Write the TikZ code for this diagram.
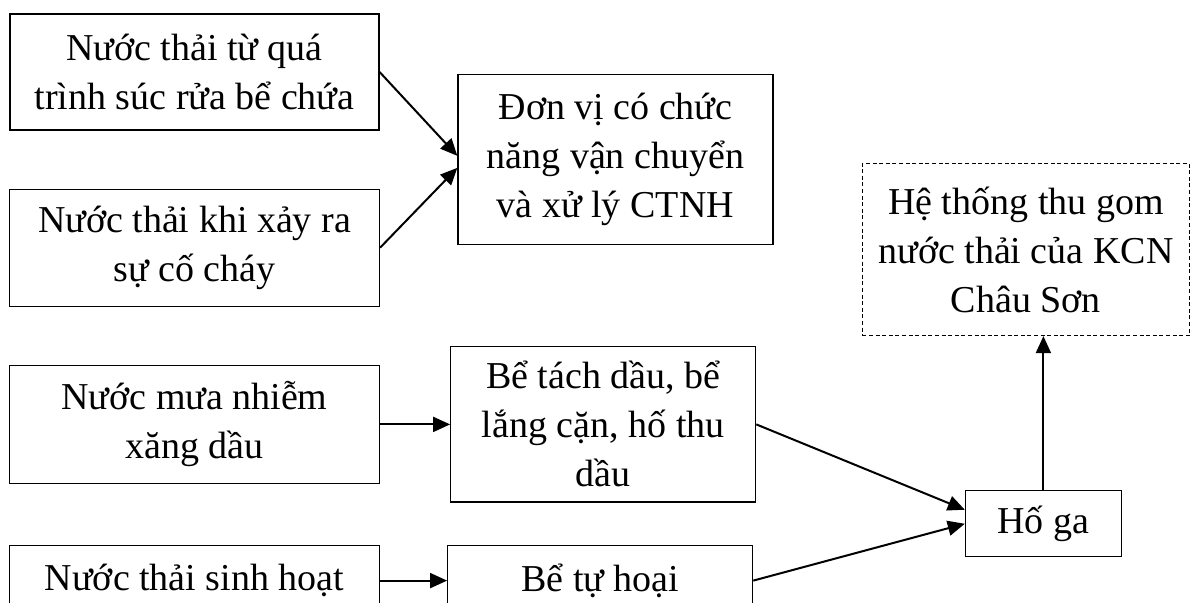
\documentclass[tikz,border=0pt]{standalone}
\usepackage{fontspec}
\setmainfont{Liberation Serif}
\usetikzlibrary{arrows.meta,positioning,calc}
\tikzset{
  blk/.style={draw, line width=0.6pt, inner sep=0pt, align=center,
              font=\fontsize{19}{24.5}\selectfont},
  dblk/.style={blk, dash pattern=on 2pt off 1.3pt},
  ar/.style={-{Triangle[length=8.5pt,width=7.5pt]}, line width=1pt},
}
\begin{document}
\begin{tikzpicture}[x=0.5pt,y=-0.5pt]
  \useasboundingbox (0,0) rectangle (1192,603);
  \clip (0,0) rectangle (1192,603);

  % --- nguồn nước thải ---
  \node[blk, minimum width=184.5pt, minimum height=58pt] (a) at (194.5,72)
       {Nước thải từ quá\\trình súc rửa bể chứa};
  \node[blk, minimum width=185pt, minimum height=58.5pt, below=29pt of a] (b)
       {Nước thải khi xảy ra\\sự cố cháy};
  \node[blk, minimum width=185pt, minimum height=59pt, below=29pt of b] (e)
       {Nước mưa nhiễm\\xăng dầu};
  \node[blk, minimum width=185pt, minimum height=35pt, below=30.5pt of e] (f)
       {Nước thải sinh hoạt};

  % --- xử lý ---
  \coordinate (ab) at ($(a.east)!.5!(b.east)$);
  \node[blk, minimum width=157.5pt, minimum height=85pt, right=38.75pt of ab] (c)
       {Đơn vị có chức\\năng vận chuyển\\và xử lý CTNH};
  \node[blk, minimum width=152.5pt, minimum height=77.5pt, right=35pt of e] (g)
       {Bể tách dầu, bể\\lắng cặn, hố thu\\dầu};
  \node[blk, minimum width=152.5pt, minimum height=35pt, right=33.5pt of f] (h)
       {Bể tự hoại};

  % --- thu gom ---
  \coordinate (gh) at ($(g.south east)!.5!(h.north east)$);
  \node[blk, minimum width=78pt, minimum height=33pt, right=105pt of gh] (i)
       {Hố ga};
  \node[dblk, minimum width=163.5pt, minimum height=86pt, above=77pt of i,
        xshift=-8.75pt] (d)
       {Hệ thống thu gom\\nước thải của KCN\\Châu Sơn};

  \draw[ar] (a.east) -- ([yshift=2pt]c.west);
  \draw[ar] (b.east) -- ([yshift=-4pt]c.west);
  \draw[ar] (e.east) -- (e.east -| g.west);
  \draw[ar] (f.east) -- (f.east -| h.west);
  \draw[ar] (g.east) -- ([yshift=7pt]i.west);
  \draw[ar] (h.east) -- (i.west);
  \draw[ar] (i.north) -- (i.north |- d.south);
\end{tikzpicture}
\end{document}
